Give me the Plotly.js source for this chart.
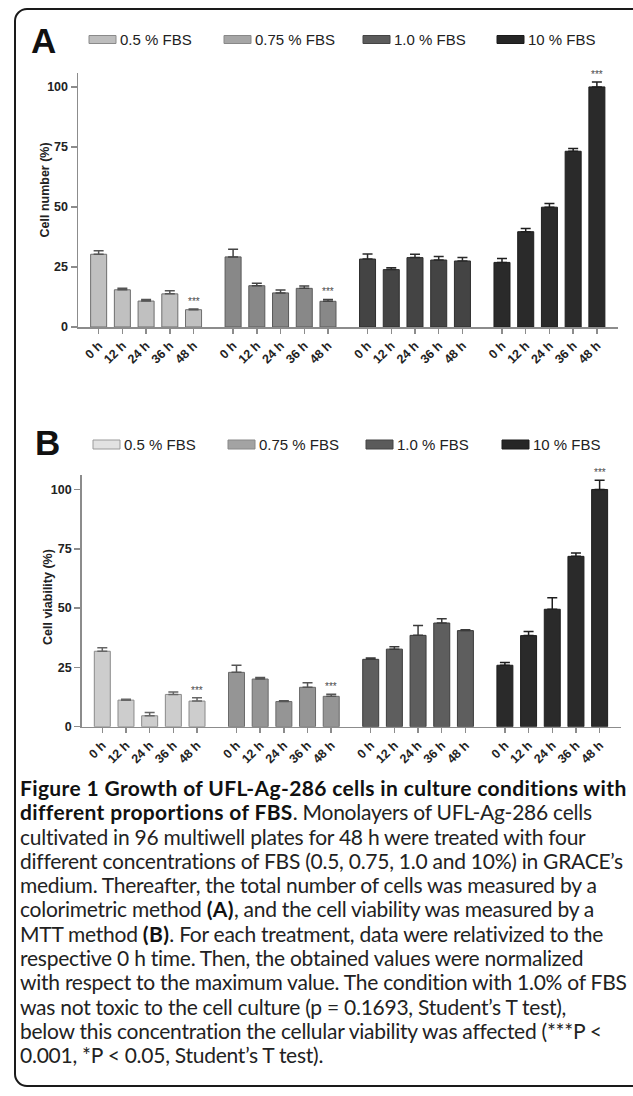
<!DOCTYPE html>
<html>
<head>
<meta charset="utf-8">
<script src="https://cdn.plot.ly/plotly-3.0.1.min.js"></script>
<style>
  html, body { margin: 0; padding: 0; width: 633px; height: 1096px; overflow: hidden; background: #fff; }
  #frame { position: absolute; left: 14px; top: 8px; width: 640px; height: 1079px; border: 2px solid #1a1a1a; border-radius: 13px; box-sizing: border-box; }
  #chart { position: absolute; left: 0; top: 0; width: 633px; height: 1096px; }
  #caption { position: absolute; left: 20px; top: 776px; font-family: Lato, "Noto Sans", sans-serif; font-size: 21px; line-height: 24.3px; color: #222; white-space: nowrap; }
  #caption .ln { display: block; width: max-content; }
  #caption b { font-weight: 700; color: #111; }
</style>
</head>
<body>
<div id="frame"></div>
<div id="chart"></div>
<div id="caption">
<div class="ln" id="l1"><b>Figure 1 Growth of UFL-Ag-286 cells in culture conditions with</b></div>
<div class="ln"><b>different proportions of FBS</b><span class="r">. Monolayers of UFL-Ag-286 cells</span></div>
<div class="ln"><span class="r">cultivated in 96 multiwell plates for 48 h were treated with four</span></div>
<div class="ln"><span class="r">different concentrations of FBS (0.5, 0.75, 1.0 and 10%) in GRACE’s</span></div>
<div class="ln"><span class="r">medium. Thereafter, the total number of cells was measured by a</span></div>
<div class="ln"><span class="r">colorimetric method </span><b>(A)</b><span class="r">, and the cell viability was measured by a</span></div>
<div class="ln"><span class="r">MTT method </span><b>(B)</b><span class="r">. For each treatment, data were relativized to the</span></div>
<div class="ln"><span class="r">respective 0 h time. Then, the obtained values were normalized</span></div>
<div class="ln" id="l9"><span class="r">with respect to the maximum value. The condition with 1.0% of FBS</span></div>
<div class="ln"><span class="r">was not toxic to the cell culture (p = 0.1693, Student’s T test),</span></div>
<div class="ln"><span class="r">below this concentration the cellular viability was affected (***P &lt;</span></div>
<div class="ln"><span class="r">0.001, *P &lt; 0.05, Student’s T test).</span></div>
</div>
<script>
// ---------------- DATA ----------------
const times = ['0 h', '12 h', '24 h', '36 h', '48 h'];
const groups = ['0.5 % FBS', '0.75 % FBS', '1.0 % FBS', '10 % FBS'];

// Panel A: Cell number (%)
const cellNumber_05  = [30.3, 15.5, 10.8, 13.8, 7.2];
const cellNumber_075 = [29.2, 17.2, 14.2, 16.1, 10.7];
const cellNumber_10  = [28.3, 23.9, 28.9, 27.9, 27.5];
const cellNumber_100 = [26.9, 39.7, 49.9, 73.2, 100.0];
const cellNumberErr_05  = [1.5, 0.6, 0.7, 1.3, 0.3];
const cellNumberErr_075 = [3.2, 1.0, 1.2, 1.0, 0.8];
const cellNumberErr_10  = [2.1, 0.8, 1.4, 1.5, 1.5];
const cellNumberErr_100 = [1.6, 1.3, 1.5, 1.2, 2.0];

// Panel B: Cell viability (%)
const viability_05  = [31.8, 11.2, 4.6, 13.6, 10.8];
const viability_075 = [22.9, 20.1, 10.6, 16.6, 12.8];
const viability_10  = [28.4, 32.7, 38.5, 43.7, 40.5];
const viability_100 = [25.9, 38.4, 49.5, 71.8, 100.0];
const viabilityErr_05  = [1.5, 0.4, 1.4, 1.0, 1.4];
const viabilityErr_075 = [3.0, 0.6, 0.3, 1.9, 0.9];
const viabilityErr_10  = [0.6, 1.0, 4.2, 1.8, 0.4];
const viabilityErr_100 = [1.2, 1.7, 4.9, 1.4, 3.9];

// significance markers (***): [group index, time index]
const sigA = [[0, 4], [1, 4], [3, 4]];
const sigB = [[0, 4], [1, 4], [3, 4]];

const yTicks = [0, 25, 50, 75, 100];

// ---------------- CAPTION FITTING ----------------
function fitCaption() {
  const target = 607;
  const bolds = document.querySelectorAll('#caption b');
  const regs = document.querySelectorAll('#caption .r');
  bolds.forEach(e => e.style.letterSpacing = '0px');
  regs.forEach(e => e.style.letterSpacing = '0px');
  const l1 = document.getElementById('l1');
  const l9 = document.getElementById('l9');
  const b1 = l1.textContent.length, r9 = l9.textContent.length;
  const wb = l1.getBoundingClientRect().width;
  const wr = l9.getBoundingClientRect().width;
  const lsb = (target - wb) / b1;
  const lsr = (target - wr) / r9;
  bolds.forEach(e => e.style.letterSpacing = lsb.toFixed(3) + 'px');
  regs.forEach(e => e.style.letterSpacing = lsr.toFixed(3) + 'px');
}
fitCaption();
if (document.fonts && document.fonts.ready) { document.fonts.ready.then(fitCaption); }

// ---------------- STYLE ----------------
const W = 633, H = 1096;
const px = x => x / W;
const py = y => 1 - y / H;
const groupStep = 5.667;
const barWidth = 0.675;
const font = 'Liberation Sans, Arial, sans-serif';

const panels = [
  {
    key: '', label: 'A', title: 'Cell number (%)',
    values: [cellNumber_05, cellNumber_075, cellNumber_10, cellNumber_100],
    errs: [cellNumberErr_05, cellNumberErr_075, cellNumberErr_10, cellNumberErr_100],
    sig: sigA,
    fill: ['#c0c0c0', '#888888', '#444444', '#2a2a2a'],
    edge: ['#6e6e6e', '#5a5a5a', '#2e2e2e', '#1e1e1e'],
    errColor: ['#555555', '#444444', '#2a2a2a', '#1e1e1e'],
    legFill: ['#bdbdbd', '#a6a6a6', '#5c5c5c', '#262626'],
    legEdge: ['#8a8a8a', '#888888', '#444444', '#1a1a1a'],
    legX: [89, 224, 363, 497], legY: 39.5, legH: 8,
    letter: {x: 29, y: 40.5},
    xdom: [78, 618], ytop: 73, ybot: 327, yrange: [0, 105.8],
    titlePos: {x: 44, y: 190.5}
  },
  {
    key: '2', label: 'B', title: 'Cell viability (%)',
    values: [viability_05, viability_075, viability_10, viability_100],
    errs: [viabilityErr_05, viabilityErr_075, viabilityErr_10, viabilityErr_100],
    sig: sigB,
    fill: ['#cdcdcd', '#959595', '#5e5e5e', '#2a2a2a'],
    edge: ['#8a8a8a', '#6a6a6a', '#3c3c3c', '#1e1e1e'],
    errColor: ['#666666', '#555555', '#3a3a3a', '#1e1e1e'],
    legFill: ['#e2e2e2', '#a3a3a3', '#5b5b5b', '#262626'],
    legEdge: ['#9a9a9a', '#888888', '#444444', '#1a1a1a'],
    legX: [93, 228, 366, 502], legY: 444.5, legH: 9,
    letter: {x: 33, y: 443},
    xdom: [81.7, 620.7], ytop: 475, ybot: 726.7, yrange: [0, 106.1],
    titlePos: {x: 47.5, y: 597.5}
  }
];

const traces = [];
const shapes = [];
const annotations = [];
const layout = {
  width: W, height: H,
  margin: {l: 0, r: 0, t: 0, b: 0, autoexpand: false},
  paper_bgcolor: 'rgba(0,0,0,0)', plot_bgcolor: 'rgba(0,0,0,0)',
  showlegend: false,
  bargap: 0,
  font: {family: font, color: '#222'}
};

panels.forEach(p => {
  const xa = 'x' + p.key, ya = 'y' + p.key;
  const tickvals = [], ticktext = [];
  groups.forEach((g, gi) => {
    const xs = times.map((t, i) => gi * groupStep + i);
    xs.forEach((x, i) => { tickvals.push(x); ticktext.push(times[i]); });
    traces.push({
      type: 'bar', name: g, x: xs, y: p.values[gi],
      xaxis: xa, yaxis: ya, width: barWidth,
      marker: {color: p.fill[gi], line: {color: p.edge[gi], width: 1}},
      error_y: {type: 'data', symmetric: false, array: p.errs[gi],
                arrayminus: p.errs[gi].map(() => 0),
                color: p.errColor[gi], thickness: 1.5, width: 5},
      hoverinfo: 'skip'
    });
    // legend swatch + label
    shapes.push({type: 'rect', xref: 'paper', yref: 'paper',
      x0: px(p.legX[gi]), x1: px(p.legX[gi] + 27),
      y0: py(p.legY + p.legH / 2), y1: py(p.legY - p.legH / 2),
      fillcolor: p.legFill[gi], line: {color: p.legEdge[gi], width: 1}});
    annotations.push({xref: 'paper', yref: 'paper', x: px(p.legX[gi] + 28.5), y: py(p.legY),
      xanchor: 'left', yanchor: 'middle', showarrow: false, text: g,
      font: {family: font, size: 15, color: '#222'}});
  });
  p.sig.forEach(([gi, ti]) => {
    annotations.push({xref: xa, yref: ya, x: gi * groupStep + ti,
      y: p.values[gi][ti] + p.errs[gi][ti], xanchor: 'center', yanchor: 'bottom',
      yshift: 0, showarrow: false, text: '***',
      font: {family: font, size: 10, color: '#4a4a4a'}});
  });
  annotations.push({xref: 'paper', yref: 'paper', x: px(p.letter.x), y: py(p.letter.y),
    xanchor: 'left', yanchor: 'middle', showarrow: false, text: '<b>' + p.label + '</b>',
    font: {family: font, size: 35, color: '#111'}});
  annotations.push({xref: 'paper', yref: 'paper', x: px(p.titlePos.x), y: py(p.titlePos.y),
    xanchor: 'center', yanchor: 'middle', showarrow: false, textangle: -90,
    text: '<b>' + p.title + '</b>', font: {family: font, size: 12.5, color: '#222'}});

  layout['xaxis' + p.key] = {
    domain: [px(p.xdom[0]), px(p.xdom[1])], anchor: ya,
    range: [-0.87, 3 * groupStep + 4 + 0.89],
    showline: true, linecolor: '#8c8c8c', linewidth: 1.5,
    showgrid: false, zeroline: false,
    tickmode: 'array', tickvals: tickvals, ticktext: ticktext,
    ticks: 'outside', ticklen: 5, tickwidth: 1.5, tickcolor: '#8c8c8c',
    tickangle: -45, tickfont: {family: font, size: 12.5, color: '#222', weight: 'bold'},
    fixedrange: true
  };
  layout['yaxis' + p.key] = {
    domain: [py(p.ybot), py(p.ytop)], anchor: xa,
    range: p.yrange,
    showline: true, linecolor: '#8c8c8c', linewidth: 1.5,
    showgrid: false, zeroline: false,
    tickmode: 'array', tickvals: yTicks, ticktext: yTicks.map(String),
    ticks: 'outside', ticklen: 6, tickwidth: 1.5, tickcolor: '#8c8c8c',
    tickfont: {family: font, size: 12.5, color: '#222', weight: 'bold'},
    fixedrange: true
  };
});

layout.shapes = shapes;
layout.annotations = annotations;

Plotly.newPlot('chart', traces, layout, {staticPlot: true, displayModeBar: false});
</script>
</body>
</html>
